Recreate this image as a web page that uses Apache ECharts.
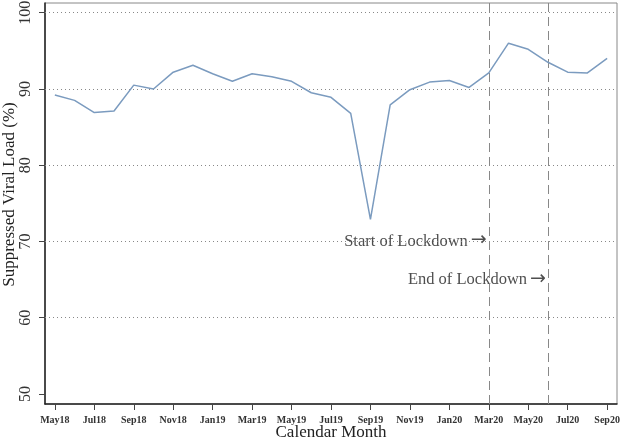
<!DOCTYPE html>
<html>
<head>
<meta charset="utf-8">
<script src="https://cdn.jsdelivr.net/npm/echarts@6/dist/echarts.min.js"></script>
<style>html,body{margin:0;padding:0;background:#fff}#c{width:622px;height:441px}</style>
</head>
<body>
<div id="c"></div>
<script>
var months = ["May18","Jun18","Jul18","Aug18","Sep18","Oct18","Nov18","Dec18","Jan19","Feb19","Mar19","Apr19","May19","Jun19","Jul19","Aug19","Sep19","Oct19","Nov19","Dec19","Jan20","Feb20","Mar20","Apr20","May20","Jun20","Jul20","Aug20","Sep20"];
var suppressed = [89.2,88.5,86.9,87.1,90.5,90.0,92.2,93.1,92.0,91.0,92.0,91.6,91.0,89.5,88.9,86.8,72.9,87.9,89.9,90.9,91.1,90.2,92.1,96.0,95.2,93.5,92.2,92.1,94.0];
var gridValues = [60,70,80,90,100];
var lockdownStart = "Mar20";
var lockdownEnd = "Jun20";
var annotations = [
  {month: "Mar20", y: 70, text: "Start of Lockdown"},
  {month: "Jun20", y: 65, text: "End of Lockdown"}
];
var serif = "'Liberation Serif','DejaVu Serif',serif";
var chart = echarts.init(document.getElementById('c'));
chart.setOption({
  animation: false,
  backgroundColor: '#fff',
  grid: {left: 45, right: 5, top: 3, bottom: 37, show: true, borderColor: '#888', borderWidth: 1, containLabel: false, outerBoundsMode: 'none'},
  xAxis: {
    type: 'category',
    data: months,
    boundaryGap: true,
    axisLine: {lineStyle: {color: '#222', width: 1.5}},
    axisTick: {show: true, interval: 1, alignWithLabel: true, length: 6, lineStyle: {color: '#444'}},
    axisLabel: {interval: 1, margin: 11, fontFamily: serif, fontSize: 10, fontWeight: 'bold', color: '#333'},
    splitLine: {show: false},
    name: 'Calendar Month',
    nameLocation: 'middle',
    nameGap: 20,
    nameMoveOverlap: false,
    nameTextStyle: {fontFamily: serif, fontSize: 17, color: '#222'}
  },
  yAxis: {
    type: 'value',
    min: 48.69,
    max: 101.27,
    axisLine: {show: true, lineStyle: {color: '#222', width: 1.5}},
    axisTick: {show: true, length: 6, lineStyle: {color: '#444'}},
    axisLabel: {rotate: 90, margin: 11, fontFamily: serif, fontSize: 16, color: '#333', showMinLabel: false, showMaxLabel: false},
    splitLine: {show: false},
    name: 'Suppressed Viral Load (%)',
    nameLocation: 'middle',
    nameRotate: 90,
    nameGap: 27,
    nameMoveOverlap: false,
    nameTextStyle: {fontFamily: serif, fontSize: 17, color: '#222', padding: [0, 0, 0, 18]}
  },
  series: [
    {
      type: 'line',
      data: suppressed,
      symbol: 'none',
      lineStyle: {color: '#7b9bbf', width: 1.5},
      z: 5,
      markLine: {
        silent: true,
        symbol: 'none',
        label: {show: false},
        data: gridValues.map(function (v) {
          return {yAxis: v, lineStyle: {type: [1, 3], color: '#888', width: 1}};
        }).concat([
          {xAxis: lockdownStart, lineStyle: {type: [9, 5], color: '#888', width: 1}},
          {xAxis: lockdownEnd, lineStyle: {type: [9, 5], color: '#888', width: 1}}
        ])
      }
    },
    {
      type: 'scatter',
      data: annotations.map(function (a) {
        return {value: [a.month, a.y], label: {formatter: a.text + '{a|\u2192}'}};
      }),
      symbolSize: 0,
      silent: true,
      label: {
        show: true, position: 'left', distance: 2, fontFamily: serif, fontSize: 16.5, color: '#222',
        rich: {a: {fontFamily: "'DejaVu Sans',sans-serif", fontSize: 19, color: '#222', padding: [0, 0, 2, 3]}}
      }
    }
  ]
});
</script>
</body>
</html>
